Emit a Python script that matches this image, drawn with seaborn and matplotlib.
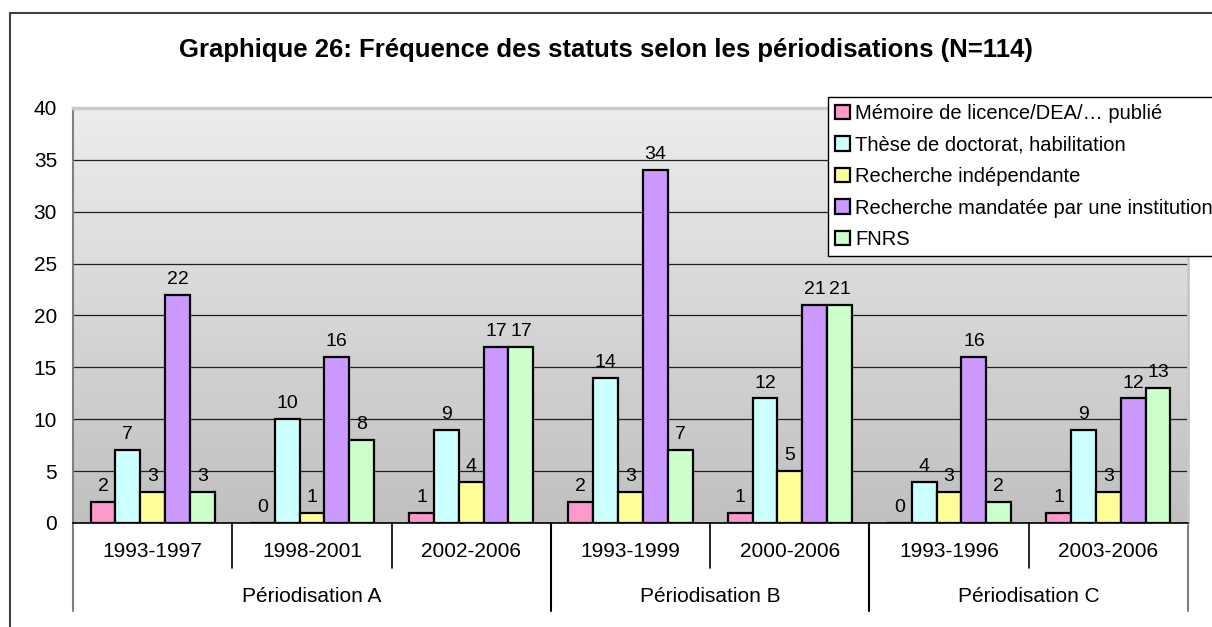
import numpy as np
import pandas as pd
import matplotlib
matplotlib.use('Agg')
import matplotlib.pyplot as plt
from matplotlib.colors import LinearSegmentedColormap
from matplotlib.patches import Patch, Rectangle
import seaborn as sns

# Données
periodes = ['1993-1997', '1998-2001', '2002-2006', '1993-1999', '2000-2006', '1993-1996', '2003-2006']
groupes = ['Périodisation A', 'Périodisation B', 'Périodisation C']
taille_groupes = [3, 2, 2]
statuts = ['Mémoire de licence/DEA/… publié', 'Thèse de doctorat, habilitation',
           'Recherche indépendante', 'Recherche mandatée par une institution', 'FNRS']
memoire = [2, 0, 1, 2, 1, 0, 1]
these = [7, 10, 9, 14, 12, 4, 9]
independante = [3, 1, 4, 3, 5, 3, 3]
mandatee = [22, 16, 17, 34, 21, 16, 12]
fnrs = [3, 8, 17, 7, 21, 2, 13]
couleurs = ['#FF99CC', '#CCFFFF', '#FFFF99', '#CC99FF', '#CCFFCC']

series = [memoire, these, independante, mandatee, fnrs]
df = pd.DataFrame({
    'periode': periodes * len(statuts),
    'statut': [s for s in statuts for _ in periodes],
    'n': [v for serie in series for v in serie],
})

sns.set_style('white')
plt.rcParams['font.family'] = ['Liberation Sans', 'DejaVu Sans']
plt.rcParams.update({'text.color': 'black', 'xtick.color': 'black',
                     'ytick.color': 'black', 'axes.labelcolor': 'black'})

W, H = 1212, 627
fig = plt.figure(figsize=(W / 100, H / 100), dpi=100)
ax = fig.add_axes([73 / W, 1 - 523 / H, (1188 - 73) / W, (523 - 108) / H])

# fond dégradé de la zone de traçage
grad = LinearSegmentedColormap.from_list('fond', ['#C0C0C0', '#EDEDED'])
ax.imshow(np.linspace(0, 1, 256)[:, None], cmap=grad, origin='lower', aspect='auto',
          extent=[0, 1, 0, 1], transform=ax.transAxes, zorder=0)

sns.barplot(data=df, x='periode', y='n', hue='statut', order=periodes, hue_order=statuts,
            palette=couleurs, saturation=1, width=0.78, edgecolor='black', linewidth=1.6,
            legend=False, ax=ax, zorder=2)

for cont in ax.containers:
    ax.bar_label(cont, fmt='%d', padding=5, fontsize=14, color='black')

ax.set_xlim(-0.5, len(periodes) - 0.5)
ax.set_ylim(0, 40)
ax.set_yticks(range(0, 41, 5))
ax.yaxis.grid(True, color='#202020', linewidth=0.9)
ax.set_axisbelow(True)
ax.set_xlabel('')
ax.set_ylabel('')
ax.tick_params(axis='y', direction='out', length=4.5, width=1, color='black', pad=7, labelsize=15)
ax.tick_params(axis='x', length=0, pad=14, labelsize=15)
ax.set_xticks(range(len(periodes)))
ax.set_xticklabels(periodes)

ax.spines['left'].set_color('#808080')
ax.spines['left'].set_linewidth(1.5)
ax.spines['bottom'].set_color('black')
ax.spines['bottom'].set_linewidth(1.2)
ax.spines['top'].set_color('#C8C8C8')
ax.spines['top'].set_linewidth(2.5)
ax.spines['right'].set_color('#C8C8C8')
ax.spines['right'].set_linewidth(2)

# axe des catégories à deux niveaux
trans = ax.get_xaxis_transform()
px = 1 / (523 - 108)
bornes = np.cumsum([0] + taille_groupes) - 0.5
for i in range(1, len(periodes)):
    x = i - 0.5
    if x in bornes:
        continue
    ax.plot([x, x], [0, -45 * px], color='black', lw=1.2, transform=trans, clip_on=False)
for x in bornes:
    c = '#808080' if x in (bornes[0], bornes[-1]) else 'black'
    ax.plot([x, x], [0, -88 * px], color=c, lw=1.5, transform=trans, clip_on=False)
for g, a, b in zip(groupes, bornes[:-1], bornes[1:]):
    ax.text((a + b) / 2, -74 * px, g, ha='center', va='center', fontsize=15,
            color='black', transform=trans)

# titre
fig.text(0.5, 1 - 50 / H, 'Graphique 26: Fréquence des statuts selon les périodisations (N=114)',
         ha='center', va='center', fontsize=18.5, fontweight='bold', color='black')

# légende
handles = [Patch(facecolor=c, edgecolor='black', linewidth=1.6) for c in couleurs]
fig.legend(handles, statuts, loc='upper left', bbox_to_anchor=(828 / W, 1 - 97 / H),
           fontsize=14.5, frameon=True, fancybox=False, edgecolor='black', framealpha=1,
           handlelength=0.75, handleheight=0.75, handletextpad=0.25, labelspacing=0.62,
           borderpad=0.35, borderaxespad=0, labelcolor='black')

# cadre de la zone de graphique
fig.patches.append(Rectangle((10 / W, -0.1), 1.2, 1.1 - 13 / H, transform=fig.transFigure,
                             fill=False, edgecolor='#404040', linewidth=1.5))

fig.savefig('out.png', dpi=100)
